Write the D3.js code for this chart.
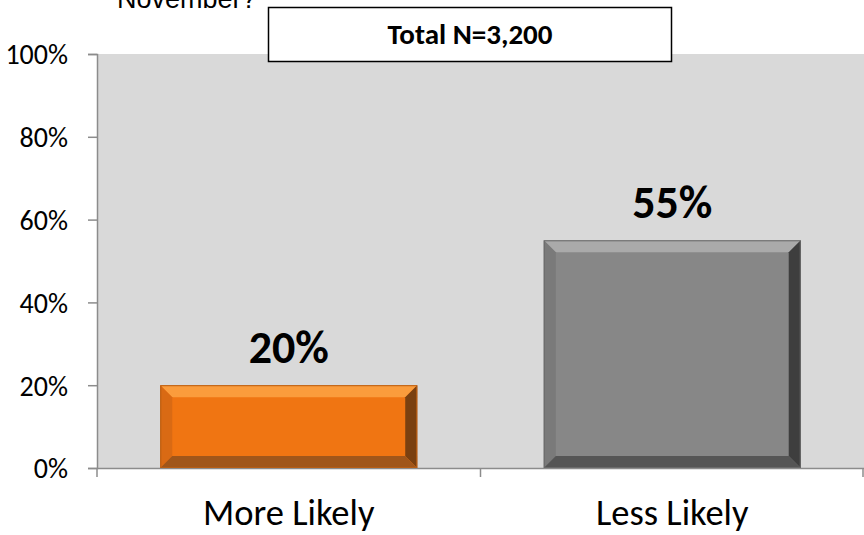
<!DOCTYPE html>
<html><head><meta charset="utf-8">
<script src="https://cdn.jsdelivr.net/npm/d3@7"></script>
<style>
html,body{margin:0;padding:0;background:#fff;}
svg{display:block;}
</style></head>
<body>
<svg id="chart" width="864" height="535"></svg>
<script>
const categories = ["More Likely", "Less Likely"];
const values = [0.20, 0.55];
const yTicks = [0, 0.2, 0.4, 0.6, 0.8, 1.0];
const titleText = "November?";
const boxText = "Total N=3,200";

const W = 864, H = 535;
const plot = {left: 97, right: 864, top: 54, bottom: 468};
const svg = d3.select("#chart");
const FONT = "Carlito, Calibri, Lato, sans-serif";

const x = d3.scaleBand().domain(categories).range([plot.left, plot.right])
  .paddingInner(0.33).paddingOuter(0.165);
const y = d3.scaleLinear().domain([0, 1]).range([plot.bottom, plot.top]);

// plot background
svg.append("rect").attr("x", plot.left).attr("y", plot.top)
  .attr("width", plot.right - plot.left).attr("height", plot.bottom - plot.top)
  .attr("fill", "#d9d9d9");

// title fragment (last line of the question, cut at the top edge as in the source)
svg.append("text").attr("x", 117).attr("y", 8)
  .attr("font-family", "Liberation Sans, Arial, sans-serif").attr("font-size", 27)
  .attr("fill", "#000").text(titleText);

// y axis
const yAxis = d3.axisLeft(y).tickValues(yTicks).tickFormat(d3.format(".0%")).tickSize(9).tickPadding(20);
const gy = svg.append("g").attr("transform", `translate(${plot.left},0)`).call(yAxis);
gy.select(".domain").attr("stroke", "#8c8c8c").attr("stroke-width", 1.5);
gy.selectAll(".tick line").attr("stroke", "#8c8c8c").attr("stroke-width", 1.5);
gy.selectAll(".tick text").attr("font-family", FONT).attr("font-size", 28).attr("fill", "#000").attr("dy", "0.35em");

// x axis
const xAxis = d3.axisBottom(x).tickSize(0).tickPadding(31);
const gx = svg.append("g").attr("transform", `translate(0,${plot.bottom})`).call(xAxis);
gx.select(".domain").attr("stroke", "#8c8c8c").attr("stroke-width", 1.5);
gx.selectAll(".tick text").attr("font-family", FONT).attr("font-size", 36.5).attr("fill", "#000");
// category boundary ticks
const bounds = [plot.left].concat(categories.map(c => x(c) + x.bandwidth() + x.step() * x.paddingInner() / 2));
gx.selectAll(".bt").data(bounds).enter().append("line").attr("class", "bt")
  .attr("x1", d => Math.min(d, plot.right - 1)).attr("x2", d => Math.min(d, plot.right - 1))
  .attr("y1", 0).attr("y2", 9).attr("stroke", "#8c8c8c").attr("stroke-width", 1.5);

// bars with bevel
const palettes = [
  {main: "#f07512", top: "#fb9c3c", left: "#d96a14", right: "#7a4010", bottom: "#a0561a", edge: "#b85e14"},
  {main: "#878787", top: "#aaaaaa", left: "#7a7a7a", right: "#3e3e3e", bottom: "#555555", edge: "#6a6a6a"}
];
const B = 12;
const bars = svg.append("g");
categories.forEach((c, i) => {
  const x0 = x(c), x1 = x(c) + x.bandwidth(), y0 = y(values[i]), y1 = y(0);
  const p = palettes[i];
  const g = bars.append("g");
  g.append("rect").attr("x", x0).attr("y", y0).attr("width", x1 - x0).attr("height", y1 - y0).attr("fill", p.main);
  const poly = (pts, fill) => g.append("polygon").attr("points", pts.map(q => q.join(",")).join(" ")).attr("fill", fill);
  poly([[x0, y0], [x1, y0], [x1 - B, y0 + B], [x0 + B, y0 + B]], p.top);
  poly([[x0, y0], [x0 + B, y0 + B], [x0 + B, y1 - B], [x0, y1]], p.left);
  poly([[x1, y0], [x1, y1], [x1 - B, y1 - B], [x1 - B, y0 + B]], p.right);
  poly([[x0, y1], [x0 + B, y1 - B], [x1 - B, y1 - B], [x1, y1]], p.bottom);
  g.append("rect").attr("x", x0 + 0.5).attr("y", y0 + 0.5).attr("width", x1 - x0 - 1).attr("height", y1 - y0 - 1)
    .attr("fill", "none").attr("stroke", p.edge).attr("stroke-width", 1);
  g.append("text").attr("x", x0 + x.bandwidth() / 2).attr("y", y0 - 22)
    .attr("text-anchor", "middle").attr("font-family", FONT).attr("font-weight", "bold")
    .attr("font-size", 46).attr("fill", "#000").text(d3.format(".0%")(values[i]));
});

// N box
svg.append("rect").attr("x", 268.5).attr("y", 7.5).attr("width", 403).attr("height", 54)
  .attr("fill", "#fff").attr("stroke", "#000").attr("stroke-width", 1.5);
svg.append("text").attr("x", 470).attr("y", 44).attr("text-anchor", "middle")
  .attr("font-family", FONT).attr("font-weight", "bold").attr("font-size", 29).attr("fill", "#000").text(boxText);
</script>
</body></html>
